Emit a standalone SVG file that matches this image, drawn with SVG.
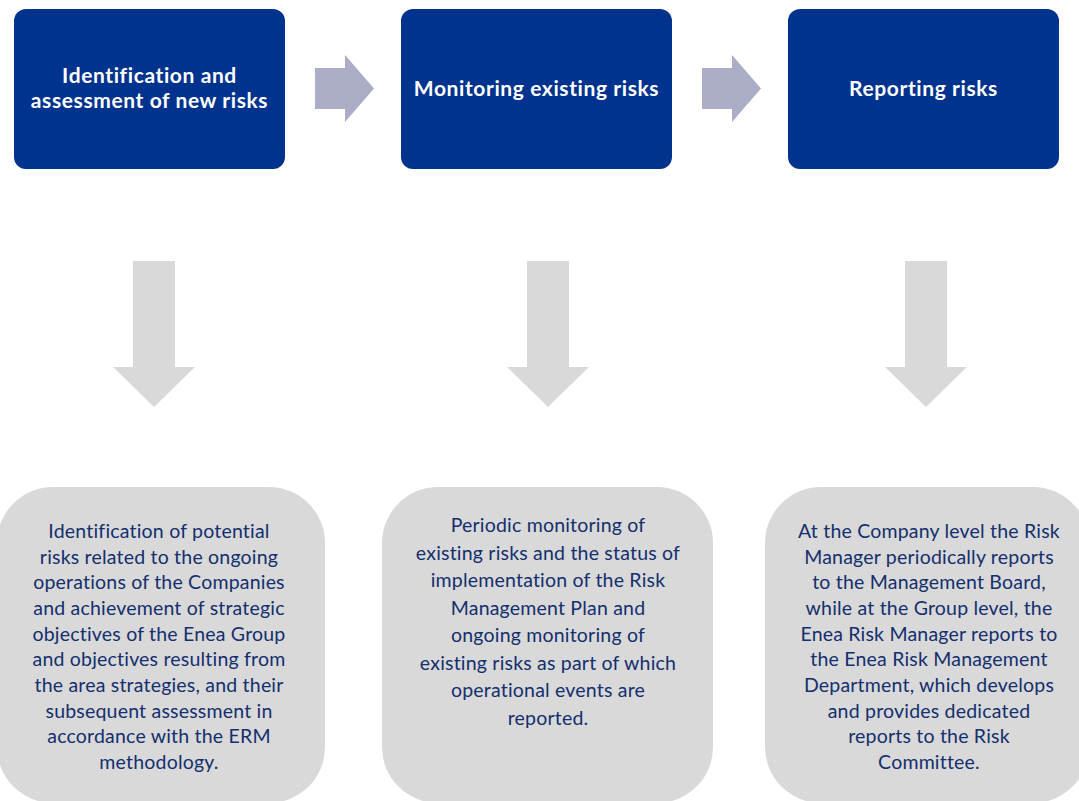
<svg xmlns="http://www.w3.org/2000/svg" width="1079" height="801" viewBox="0 0 1079 801">
<style>
.top{fill:#00338D}
.ttl{font-family:Lato,"Open Sans",sans-serif;font-weight:bold;font-size:21px;letter-spacing:0.6px;fill:#ffffff;text-anchor:middle}
.box{fill:#D9D9D9}
.txt{font-family:Lato,"Open Sans",sans-serif;font-size:19.5px;letter-spacing:0.2px;fill:#132F6E;text-anchor:middle}
.ra{fill:#ABADC6}
.da{fill:#D9D9D9}
</style>
<rect width="1079" height="801" fill="#ffffff"/>
<g id="connectors">
<polygon class="ra" points="315,68 345,68 345,55 374,88.5 345,122 345,109 315,109"/>
<polygon class="ra" points="702,68 732,68 732,55 761,88.5 732,122 732,109 702,109"/>
<polygon class="da" points="133,261 175,261 175,367 195,367 154,407 113,367 133,367"/>
<polygon class="da" points="527,261 569,261 569,367 589,367 548,407 507,367 527,367"/>
<polygon class="da" points="905,261 947,261 947,367 967,367 926,407 885,367 905,367"/>
</g>
<g id="n1">
<rect class="top" x="14" y="9" width="271" height="160" rx="12"/>
<text class="ttl" x="149.5" y="83">Identification and</text>
<text class="ttl" x="149.5" y="108">assessment of new risks</text>
</g>
<g id="n2">
<rect class="top" x="401" y="9" width="271" height="160" rx="12"/>
<text class="ttl" x="536.5" y="96">Monitoring existing risks</text>
</g>
<g id="n3">
<rect class="top" x="788" y="9" width="271" height="160" rx="12"/>
<text class="ttl" x="923.5" y="96">Reporting risks</text>
</g>
<g id="b1">
<rect class="box" x="-3" y="487" width="328" height="316" rx="56"/>
<text class="txt" x="159" y="538">Identification of potential</text>
<text class="txt" x="159" y="564">risks related to the ongoing</text>
<text class="txt" x="159" y="589">operations of the Companies</text>
<text class="txt" x="159" y="615">and achievement of strategic</text>
<text class="txt" x="159" y="641">objectives of the Enea Group</text>
<text class="txt" x="159" y="666">and objectives resulting from</text>
<text class="txt" x="159" y="692">the area strategies, and their</text>
<text class="txt" x="159" y="718">subsequent assessment in</text>
<text class="txt" x="159" y="743">accordance with the ERM</text>
<text class="txt" x="159" y="769">methodology.</text>
</g>
<g id="b2">
<rect class="box" x="382" y="487" width="331" height="316" rx="56"/>
<text class="txt" x="548" y="532">Periodic monitoring of</text>
<text class="txt" x="548" y="560">existing risks and the status of</text>
<text class="txt" x="548" y="587">implementation of the Risk</text>
<text class="txt" x="548" y="615">Management Plan and</text>
<text class="txt" x="548" y="642">ongoing monitoring of</text>
<text class="txt" x="548" y="670">existing risks as part of which</text>
<text class="txt" x="548" y="697">operational events are</text>
<text class="txt" x="548" y="725">reported.</text>
</g>
<g id="b3">
<rect class="box" x="765" y="487" width="324" height="316" rx="56"/>
<text class="txt" x="929" y="538">At the Company level the Risk</text>
<text class="txt" x="929" y="564">Manager periodically reports</text>
<text class="txt" x="929" y="589">to the Management Board,</text>
<text class="txt" x="929" y="615">while at the Group level, the</text>
<text class="txt" x="929" y="641">Enea Risk Manager reports to</text>
<text class="txt" x="929" y="666">the Enea Risk Management</text>
<text class="txt" x="929" y="692">Department, which develops</text>
<text class="txt" x="929" y="718">and provides dedicated</text>
<text class="txt" x="929" y="743">reports to the Risk</text>
<text class="txt" x="929" y="769">Committee.</text>
</g>
</svg>
